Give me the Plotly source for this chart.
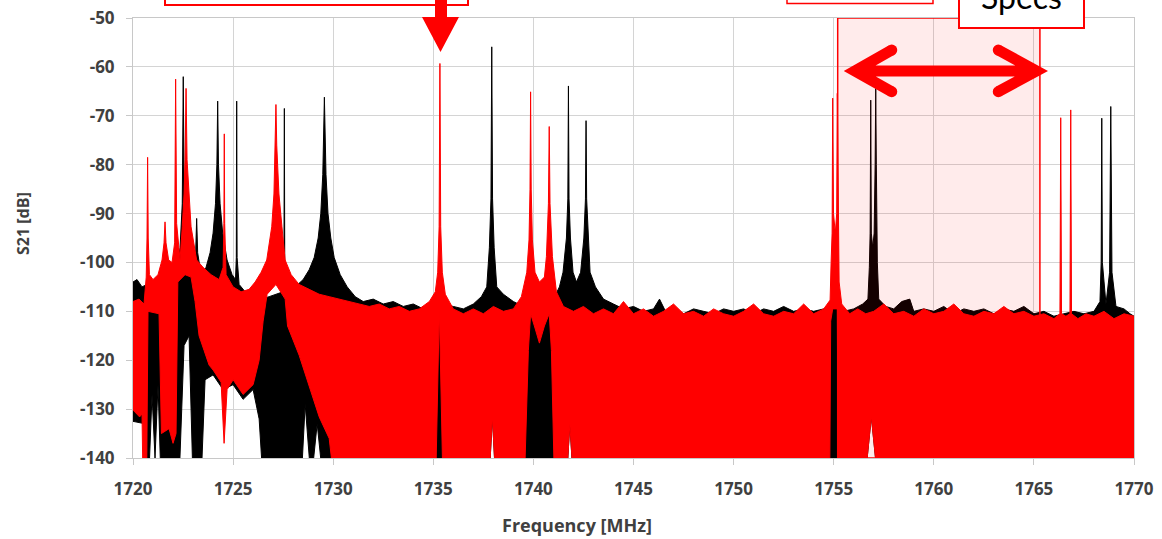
import plotly.graph_objects as go

# ---------------- axis ticks ----------------
x_ticks = [1720, 1725, 1730, 1735, 1740, 1745, 1750, 1755, 1760, 1765, 1770]
y_ticks = [-140, -130, -120, -110, -100, -90, -80, -70, -60, -50]

# spec band (MHz)
spec_band = [1755.2, 1765.3]

# ---------------- black trace: upper outline (MHz, dB) ----------------
black_top_mhz = [
    1720.00, 1720.20, 1720.45, 1720.70, 1720.95, 1721.20, 1721.45, 1721.70, 1721.95, 1722.20,
    1722.35, 1722.46, 1722.51, 1722.56, 1722.66, 1722.85, 1723.05, 1723.13, 1723.18, 1723.23,
    1723.40, 1723.65, 1723.85, 1724.00, 1724.12, 1724.19, 1724.23, 1724.27, 1724.35, 1724.48,
    1724.70, 1724.95, 1725.12, 1725.16, 1725.18, 1725.20, 1725.30, 1725.60, 1726.00, 1726.40,
    1726.80, 1727.20, 1727.50, 1727.54, 1727.56, 1727.58, 1727.75, 1728.10, 1728.50, 1728.80,
    1729.05, 1729.25, 1729.38, 1729.48, 1729.56, 1729.64, 1729.74, 1729.88, 1730.05, 1730.35,
    1730.70, 1731.10, 1731.50, 1732.00, 1732.50, 1733.00, 1733.50, 1734.00, 1734.50, 1735.00,
    1735.50, 1736.00, 1736.50, 1737.00, 1737.40, 1737.67, 1737.80, 1737.88, 1737.92, 1737.96,
    1738.04, 1738.17, 1738.50, 1739.00, 1739.50, 1740.00, 1740.50, 1741.00, 1741.30, 1741.48,
    1741.65, 1741.72, 1741.75, 1741.78, 1741.85, 1741.98, 1742.15, 1742.36, 1742.52, 1742.60,
    1742.63, 1742.66, 1742.74, 1742.83, 1743.10, 1743.50, 1744.00, 1744.50, 1745.00, 1745.50,
    1746.00, 1746.30, 1746.60, 1747.00, 1747.50, 1748.00, 1748.50, 1749.00, 1749.50, 1750.00,
    1750.50, 1751.00, 1751.50, 1752.00, 1752.50, 1753.00, 1753.50, 1754.00, 1754.50, 1755.00,
    1755.50, 1756.00, 1756.45, 1756.71, 1756.78, 1756.82, 1756.85, 1756.88, 1756.95, 1757.02,
    1757.07, 1757.10, 1757.13, 1757.18, 1757.25, 1757.60, 1758.00, 1758.40, 1758.80, 1759.00,
    1759.50, 1760.00, 1760.50, 1761.00, 1761.50, 1762.00, 1762.50, 1763.00, 1763.50, 1764.00,
    1764.50, 1765.00, 1765.50, 1766.00, 1766.50, 1767.00, 1767.50, 1768.00, 1768.30, 1768.36,
    1768.39, 1768.42, 1768.60, 1768.78, 1768.84, 1768.90, 1769.10, 1769.50, 1769.80, 1770.00,
]
black_top_db = [
    -104.0, -103.5, -105.0, -104.5, -106.0, -105.0, -106.5, -105.0, -104.0, -101.0,
    -97.0, -88.0, -62.0, -88.0, -97.0, -101.5, -102.0, -98.0, -91.0, -98.0,
    -102.5, -101.0, -98.0, -94.0, -88.0, -80.0, -67.0, -80.0, -88.0, -94.0,
    -99.5, -102.5, -103.5, -99.0, -67.0, -99.0, -104.5, -106.0, -107.0, -107.5,
    -107.0, -106.5, -106.0, -100.0, -68.5, -100.0, -105.5, -105.0, -103.5, -101.5,
    -99.0, -95.0, -90.0, -82.0, -66.2, -82.0, -90.0, -95.0, -99.0, -102.5,
    -105.0, -107.0, -108.0, -107.5, -108.5, -108.0, -109.0, -108.5, -109.5, -109.0,
    -108.5, -109.0, -109.5, -108.5, -107.0, -105.0, -97.0, -87.0, -55.9, -87.0,
    -97.0, -105.0, -106.5, -108.0, -109.0, -109.5, -109.0, -107.5, -105.0, -102.0,
    -95.0, -87.0, -63.9, -87.0, -95.0, -102.0, -104.0, -102.0, -95.0, -87.0,
    -71.0, -87.0, -95.0, -102.0, -105.0, -107.5, -108.5, -109.5, -109.0, -110.0,
    -109.5, -107.5, -110.0, -109.5, -110.5, -109.5, -110.0, -110.5, -109.5, -110.0,
    -109.5, -110.5, -109.5, -110.0, -109.0, -110.0, -109.5, -110.0, -109.5, -109.0,
    -110.0, -109.5, -108.5, -107.5, -101.0, -94.0, -66.8, -94.0, -97.0, -94.0,
    -80.0, -64.4, -80.0, -100.0, -107.5, -109.0, -109.5, -108.0, -107.5, -110.0,
    -109.5, -110.0, -109.0, -110.5, -109.5, -110.0, -109.5, -110.5, -109.5, -110.0,
    -109.0, -110.5, -110.0, -111.0, -110.5, -110.0, -110.5, -110.0, -108.0, -100.0,
    -70.5, -100.0, -108.5, -102.0, -68.1, -102.0, -109.0, -109.5, -110.5, -111.0,
]

# ---------------- black trace: lower outline ----------------
black_bottom_mhz = [
    1720.00, 1720.60, 1720.64, 1720.78, 1720.95, 1721.10, 1721.25, 1721.40, 1722.30, 1722.55,
    1722.80, 1723.00, 1723.40, 1723.60, 1724.00, 1724.50, 1725.00, 1725.50, 1726.00, 1726.30,
    1726.50, 1728.40, 1728.60, 1728.90, 1729.20, 1729.50, 1737.78, 1737.95, 1738.12, 1741.65,
    1741.82, 1742.00, 1756.55, 1756.88, 1757.21, 1770.00,
]
black_bottom_db = [
    -132.5, -133.0, -145.0, -145.0, -127.0, -140.0, -125.0, -145.0, -145.0, -117.0,
    -115.0, -145.0, -145.0, -124.0, -123.0, -126.0, -125.0, -128.0, -126.0, -132.0,
    -145.0, -145.0, -129.0, -145.0, -133.0, -145.0, -145.0, -131.5, -145.0, -145.0,
    -133.0, -145.0, -145.0, -131.5, -145.0, -145.0,
]

# ---------------- red trace: upper outline ----------------
red_top_mhz = [
    1720.00, 1720.30, 1720.55, 1720.66, 1720.70, 1720.73, 1720.76, 1720.82, 1721.00, 1721.25,
    1721.45, 1721.55, 1721.60, 1721.65, 1721.78, 1721.95, 1722.08, 1722.13, 1722.18, 1722.35,
    1722.46, 1722.55, 1722.60, 1722.65, 1722.70, 1722.80, 1722.90, 1723.18, 1723.50, 1723.90,
    1724.30, 1724.50, 1724.54, 1724.56, 1724.58, 1724.65, 1725.00, 1725.40, 1725.80, 1726.10,
    1726.40, 1726.68, 1726.93, 1727.04, 1727.10, 1727.14, 1727.18, 1727.29, 1727.44, 1727.60,
    1727.90, 1728.30, 1728.80, 1729.30, 1729.80, 1730.30, 1730.80, 1731.30, 1731.80, 1732.30,
    1732.80, 1733.30, 1733.80, 1734.30, 1734.80, 1735.10, 1735.22, 1735.29, 1735.33, 1735.37,
    1735.45, 1735.60, 1736.00, 1736.50, 1737.00, 1737.50, 1738.00, 1738.50, 1739.00, 1739.40,
    1739.67, 1739.78, 1739.83, 1739.86, 1739.89, 1739.95, 1740.08, 1740.30, 1740.55, 1740.65,
    1740.75, 1740.79, 1740.83, 1740.95, 1741.15, 1741.50, 1742.00, 1742.50, 1743.00, 1743.50,
    1744.00, 1744.50, 1745.00, 1745.50, 1746.00, 1746.50, 1747.00, 1747.50, 1748.00, 1748.50,
    1749.00, 1749.50, 1750.00, 1750.50, 1751.00, 1751.50, 1752.00, 1752.50, 1753.00, 1753.50,
    1754.00, 1754.50, 1754.82, 1754.87, 1754.92, 1754.95, 1754.99, 1755.08, 1755.15, 1755.18,
    1755.22, 1755.27, 1755.40, 1755.80, 1756.20, 1756.60, 1757.00, 1757.50, 1758.00, 1758.50,
    1759.00, 1759.50, 1760.00, 1760.50, 1761.00, 1761.50, 1762.00, 1762.50, 1763.00, 1763.50,
    1764.00, 1764.50, 1765.00, 1765.50, 1766.00, 1766.30, 1766.34, 1766.38, 1766.60, 1766.80,
    1766.84, 1766.88, 1767.20, 1767.60, 1768.00, 1768.50, 1769.00, 1769.50, 1770.00,
]
red_top_db = [
    -108.0, -107.5, -108.5, -103.0, -95.0, -78.5, -95.0, -102.5, -103.5, -102.5,
    -99.5, -96.0, -91.7, -96.0, -99.5, -100.0, -96.0, -62.5, -92.0, -99.5,
    -92.7, -86.0, -79.0, -64.4, -79.0, -86.0, -92.7, -99.5, -101.0, -102.5,
    -103.5, -101.0, -92.0, -73.7, -92.0, -102.5, -105.0, -106.0, -105.5, -104.0,
    -102.0, -99.5, -92.7, -86.0, -76.0, -67.7, -76.0, -86.0, -92.7, -99.5,
    -102.5, -104.5, -105.5, -106.5, -107.0, -107.5, -108.0, -108.5, -109.0, -108.5,
    -109.5, -109.0, -110.0, -109.5, -108.0, -106.0, -102.0, -92.7, -59.3, -92.7,
    -102.0, -106.5, -109.5, -110.5, -109.5, -110.5, -109.0, -110.0, -109.5, -107.0,
    -102.0, -95.4, -85.0, -65.1, -85.0, -95.4, -102.0, -104.0, -103.0, -98.8,
    -88.0, -72.2, -88.0, -98.8, -106.0, -109.0, -110.0, -109.0, -110.5, -109.5,
    -110.5, -108.0, -110.5, -109.5, -111.0, -110.0, -108.5, -110.5, -110.0, -111.0,
    -109.5, -110.5, -111.0, -110.0, -108.5, -110.5, -111.0, -110.0, -110.5, -108.5,
    -110.5, -109.5, -107.7, -100.0, -94.0, -66.4, -90.0, -94.0, -90.0, -65.4,
    -94.0, -104.0, -108.5, -110.5, -109.5, -110.5, -110.0, -108.5, -110.5, -110.0,
    -111.0, -109.5, -110.5, -110.0, -108.5, -110.5, -111.0, -110.0, -110.5, -109.0,
    -110.5, -110.0, -111.0, -110.5, -111.5, -110.5, -70.4, -110.5, -111.0, -110.5,
    -68.8, -110.5, -111.5, -110.5, -111.0, -110.0, -111.5, -110.5, -111.0,
]

# ---------------- red trace: lower outline ----------------
red_bottom_mhz = [
    1720.00, 1720.33, 1720.45, 1720.50, 1720.68, 1720.75, 1721.30, 1721.42, 1721.80, 1722.00,
    1722.15, 1722.24, 1722.60, 1722.90, 1723.10, 1723.30, 1723.55, 1723.80, 1724.00, 1724.40,
    1724.55, 1724.70, 1725.00, 1725.50, 1726.00, 1726.30, 1726.50, 1726.70, 1727.14, 1727.60,
    1727.72, 1728.30, 1728.80, 1729.30, 1729.80, 1730.05, 1735.12, 1735.30, 1735.48, 1737.78,
    1737.95, 1738.12, 1739.55, 1739.75, 1739.86, 1740.05, 1740.30, 1740.55, 1740.79, 1740.90,
    1741.05, 1741.65, 1741.82, 1742.00, 1754.80, 1754.85, 1754.95, 1755.18, 1755.22, 1756.55,
    1756.88, 1757.21, 1770.00,
]
red_bottom_db = [
    -130.2, -131.6, -131.0, -145.0, -145.0, -110.0, -110.5, -135.0, -134.0, -137.0,
    -135.0, -104.0, -102.5, -103.0, -108.0, -115.0, -118.0, -121.0, -122.0, -124.5,
    -137.0, -126.0, -124.0, -127.0, -125.0, -120.0, -112.0, -106.5, -104.5, -107.5,
    -113.0, -119.0, -125.5, -131.6, -136.0, -145.0, -145.0, -109.5, -145.0, -145.0,
    -131.5, -145.0, -145.0, -118.0, -110.5, -113.0, -116.5, -113.0, -110.5, -118.0,
    -145.0, -145.0, -133.0, -145.0, -145.0, -112.0, -109.5, -109.5, -145.0, -145.0,
    -131.5, -145.0, -145.0,
]


def band(top_x, top_y, bot_x, bot_y):
    return top_x + bot_x[::-1], top_y + bot_y[::-1]


fig = go.Figure()

bx, by = band(black_top_mhz, black_top_db, black_bottom_mhz, black_bottom_db)
fig.add_trace(go.Scatter(x=bx, y=by, mode="lines", fill="toself",
                         fillcolor="#000000", line=dict(color="#000000", width=1),
                         hoverinfo="skip", showlegend=False))
rx, ry = band(red_top_mhz, red_top_db, red_bottom_mhz, red_bottom_db)
fig.add_trace(go.Scatter(x=rx, y=ry, mode="lines", fill="toself",
                         fillcolor="#ff0000", line=dict(color="#ff0000", width=1),
                         hoverinfo="skip", showlegend=False))

# ---------- geometry helpers (pixel layout of plot area) ----------
L, R, T, B = 133, 28, 18, 81
W, H = 1162, 539
PW, PH = W - L - R, H - T - B


def px(x):
    return (x - L) / PW


def py(y):
    return (H - B - y) / PH


shapes = []
# spec band overlay
shapes.append(dict(type="rect", xref="x", yref="y", x0=spec_band[0], x1=spec_band[1],
                   y0=-140, y1=-50, fillcolor="rgba(255,0,0,0.08)",
                   line=dict(color="#ff0000", width=1.5), layer="above"))
# double-headed arrow
arrow_path = ("M 1757.90,-56.55 L 1756.06,-60.84 L 1757.90,-65.07 "
              "M 1756.06,-60.84 L 1765.13,-60.84 "
              "M 1763.22,-56.55 L 1765.13,-60.84 L 1763.22,-65.07")
shapes.append(dict(type="path", xref="x", yref="y", path=arrow_path,
                   line=dict(color="#ff0000", width=11), layer="above"))
for ax_, ay_ in [(1757.90, -56.55), (1757.90, -65.07), (1763.22, -56.55), (1763.22, -65.07)]:
    shapes.append(dict(type="circle", xref="x", yref="y", xsizemode="pixel", ysizemode="pixel",
                       xanchor=ax_, yanchor=ay_, x0=-5.5, x1=5.5, y0=-5.5, y1=5.5,
                       fillcolor="#ff0000", line=dict(width=0), layer="above"))
# callout boxes at the top (cut off by the page edge)
shapes.append(dict(type="rect", xref="paper", yref="paper", x0=px(165), x1=px(468),
                   y0=py(5), y1=py(-40), fillcolor="white",
                   line=dict(color="#ff0000", width=2), layer="above"))
shapes.append(dict(type="rect", xref="paper", yref="paper", x0=px(787), x1=px(933),
                   y0=py(3.5), y1=py(-40), fillcolor="white",
                   line=dict(color="#ff0000", width=1.5), layer="above"))
shapes.append(dict(type="rect", xref="paper", yref="paper", x0=px(959), x1=px(1084),
                   y0=py(28), y1=py(-40), fillcolor="white",
                   line=dict(color="#ff0000", width=2), layer="above"))
# down arrow below left callout
down = [(435, -5), (447, -5), (447, 17), (459, 17), (440.5, 52), (422, 17), (435, 17)]
dpath = "M " + " L ".join(f"{px(a):.5f},{py(b):.5f}" for a, b in down) + " Z"
shapes.append(dict(type="path", xref="paper", yref="paper", path=dpath,
                   fillcolor="#ff0000", line=dict(color="#ff0000", width=0), layer="above"))

annotations = [
    dict(text="<b>S21 [dB]</b>", xref="paper", yref="paper", x=px(23), y=py(224),
         textangle=-90, showarrow=False, xanchor="center", yanchor="middle",
         font=dict(family="Open Sans", size=16, color="#404040")),
    dict(text="<b>Frequency [MHz]</b>", xref="paper", yref="paper", x=px(577), y=py(525),
         showarrow=False, xanchor="center", yanchor="middle",
         font=dict(family="Open Sans", size=18, color="#404040")),
    dict(text="Specs", xref="paper", yref="paper", x=px(1021.5), y=py(18),
         showarrow=False, xanchor="center", yanchor="bottom",
         font=dict(family="Lato", size=32, color="#000000")),
]

axis_common = dict(showgrid=True, gridcolor="#d4d4d4", gridwidth=1,
                   showline=True, linecolor="#c8c8c8", linewidth=1, mirror=True,
                   ticks="outside", ticklen=6, tickcolor="#c8c8c8", zeroline=False,
                   automargin=False,
                   tickfont=dict(family="Open Sans", size=17, color="#404040", weight="bold"))

fig.update_layout(
    width=W, height=H, autosize=False,
    margin=dict(l=L, r=R, t=T, b=B, pad=0, autoexpand=False),
    plot_bgcolor="white", paper_bgcolor="white",
    xaxis=dict(range=[1720, 1770], tickvals=x_ticks, ticktext=[str(v) for v in x_ticks],
               ticklabelstandoff=10, **axis_common),
    yaxis=dict(range=[-140, -50], tickvals=y_ticks, ticktext=[str(v) for v in y_ticks],
               ticklabelstandoff=8, **axis_common),
    shapes=shapes, annotations=annotations,
    showlegend=False,
)

fig.write_html(
    "out.html",
    config={"displayModeBar": False},
    post_script="document.body.style.margin='0';document.body.style.padding='0';"
                "document.body.style.overflow='hidden';",
)
